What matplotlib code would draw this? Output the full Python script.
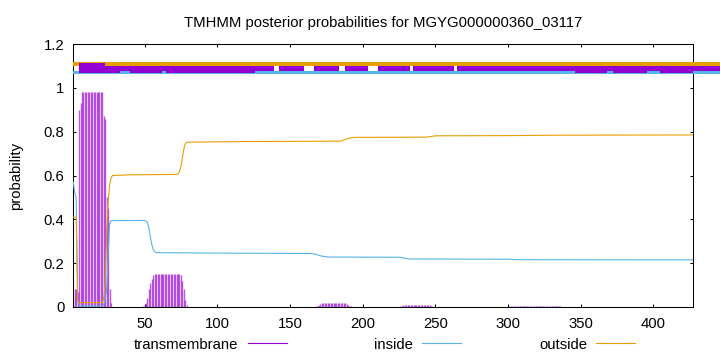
import matplotlib.pyplot as plt

plt.rcParams['font.family'] = ['Liberation Sans', 'DejaVu Sans']

title = "TMHMM posterior probabilities for MGYG000000360_03117"
seq_len = 427

# transmembrane posterior, only the non-zero stretches (start position, values)
tm_starts = [1, 49, 120, 168, 226, 300]
tm_values = [
    [0.05, 0.08, 0.08, 0.07, 0.90, 0.93] + [0.98] * 15 + [0.87, 0.86, 0.50, 0.45, 0.08, 0.02],
    [0.005, 0.01, 0.02, 0.04, 0.08, 0.11, 0.13, 0.145] + [0.15] * 18 + [0.145, 0.12, 0.08, 0.03, 0.01],
    [0.002] * 31,
    [0.003, 0.006, 0.01, 0.013, 0.016, 0.018] + [0.02] * 13 + [0.019, 0.017, 0.014, 0.01, 0.006, 0.003],
    [0.003, 0.005, 0.007, 0.009] + [0.01] * 15 + [0.009, 0.007, 0.005, 0.003, 0.002],
    [0.003] * 37,
]

# inside posterior (read at breakpoints)
in_pos = [1, 2, 3, 4, 5, 21, 22, 23, 24, 25, 26, 27, 50, 51, 52, 53, 54, 55, 56, 57, 58,
          100, 165, 168, 172, 176, 226, 229, 232, 300, 306, 427]
in_val = [0.57, 0.52, 0.50, 0.03, 0.005, 0.005, 0.01, 0.04, 0.08, 0.25, 0.38, 0.394, 0.395,
          0.392, 0.385, 0.36, 0.32, 0.285, 0.262, 0.252, 0.248,
          0.246, 0.244, 0.24, 0.232, 0.228, 0.227, 0.222, 0.219, 0.218, 0.216, 0.215]

# outside posterior (read at breakpoints)
out_pos = [1, 3, 4, 5, 21, 22, 23, 24, 25, 26, 27, 28, 40, 72, 73, 74, 75, 76, 77, 78, 79,
           120, 165, 185, 188, 192, 195, 244, 250, 300, 336, 427]
out_val = [0.41, 0.41, 0.03, 0.02, 0.02, 0.04, 0.12, 0.35, 0.48, 0.56, 0.59, 0.60, 0.603,
           0.605, 0.608, 0.618, 0.64, 0.68, 0.72, 0.745, 0.752,
           0.755, 0.756, 0.757, 0.765, 0.772, 0.774, 0.775, 0.781, 0.782, 0.784, 0.785]

# topology bars at the top (position ranges)
bar_end = 447
tm_bar = [(4.9, 138.7), (142.5, 159.7), (166.8, 183.7), (187.9, 203.7),
          (210.6, 232.6), (234.5, 262.8), (264.7, bar_end)]
tm_bar_wide = [(4.9, 33), (40, 62.3), (64.8, 126), (346, 368), (372.5, 395.4), (404.5, 427.4)]
tm_bar_first = (4.9, 23.1)

purple = '#9400d3'
blue = '#56b4e9'
orange = '#e69f00'

fig = plt.figure(figsize=(7.2, 3.52), dpi=100)
ax = fig.add_axes([73.3 / 720, 45 / 352, 619.4 / 720, 263 / 352])

for start, vals in zip(tm_starts, tm_values):
    xs = list(range(start, start + len(vals)))
    ax.vlines(xs, 0, vals, color=purple, lw=1.0, alpha=0.65, zorder=2)

ax.plot(in_pos, in_val, color=blue, lw=0.8, zorder=3)
ax.plot(out_pos, out_val, color=orange, lw=0.8, zorder=4)

def band(x0, x1, y0, y1, color, z):
    ax.fill_between([x0, x1], y0, y1, color=color, lw=0, clip_on=False, zorder=z)

band(1, bar_end, 1.1008, 1.1191, orange, 5)
band(1, bar_end, 1.0630, 1.0766, blue, 5)
for a, b in tm_bar:
    band(a, b, 1.0766, 1.1008, purple, 6)
for a, b in tm_bar_wide:
    band(a, b, 1.0661, 1.1008, purple, 6)
band(tm_bar_first[0], tm_bar_first[1], 1.0661, 1.1145, purple, 7)

ax.set_xlim(1, seq_len)
ax.set_ylim(0, 1.2)
ax.set_xticks([50, 100, 150, 200, 250, 300, 350, 400])
ax.set_yticks([0, 0.2, 0.4, 0.6, 0.8, 1.0, 1.2])
ax.set_yticklabels(['0', '0.2', '0.4', '0.6', '0.8', '1', '1.2'])
ax.tick_params(direction='in', top=True, right=True, length=2.5, width=0.75,
               labelsize=10.7, colors='black')
ax.tick_params(axis='x', pad=7)
ax.tick_params(axis='y', pad=6.5)
for s in ax.spines.values():
    s.set_linewidth(0.75)

fig.text(383 / 720, 1 - 26.7 / 352, title, ha='center', va='baseline', fontsize=10.7)
fig.text(16 / 720, 1 - 175.5 / 352, 'probability', rotation=90, ha='center', va='center',
         fontsize=10.7)

# legend row (gnuplot style: label then line sample)
legend_items = [('transmembrane', purple, 237.8, 248, 286.8),
                ('inside', blue, 412.7, 422.2, 460.9),
                ('outside', orange, 587.2, 596.4, 635)]
for label, color, tx, l0, l1 in legend_items:
    fig.text(tx / 720, 1 - 348.7 / 352, label, ha='right', va='baseline', fontsize=10.7)
    fig.add_artist(plt.Line2D([l0 / 720, l1 / 720], [1 - 343.4 / 352] * 2, color=color, lw=0.8))

fig.savefig('out.png', dpi=100)
